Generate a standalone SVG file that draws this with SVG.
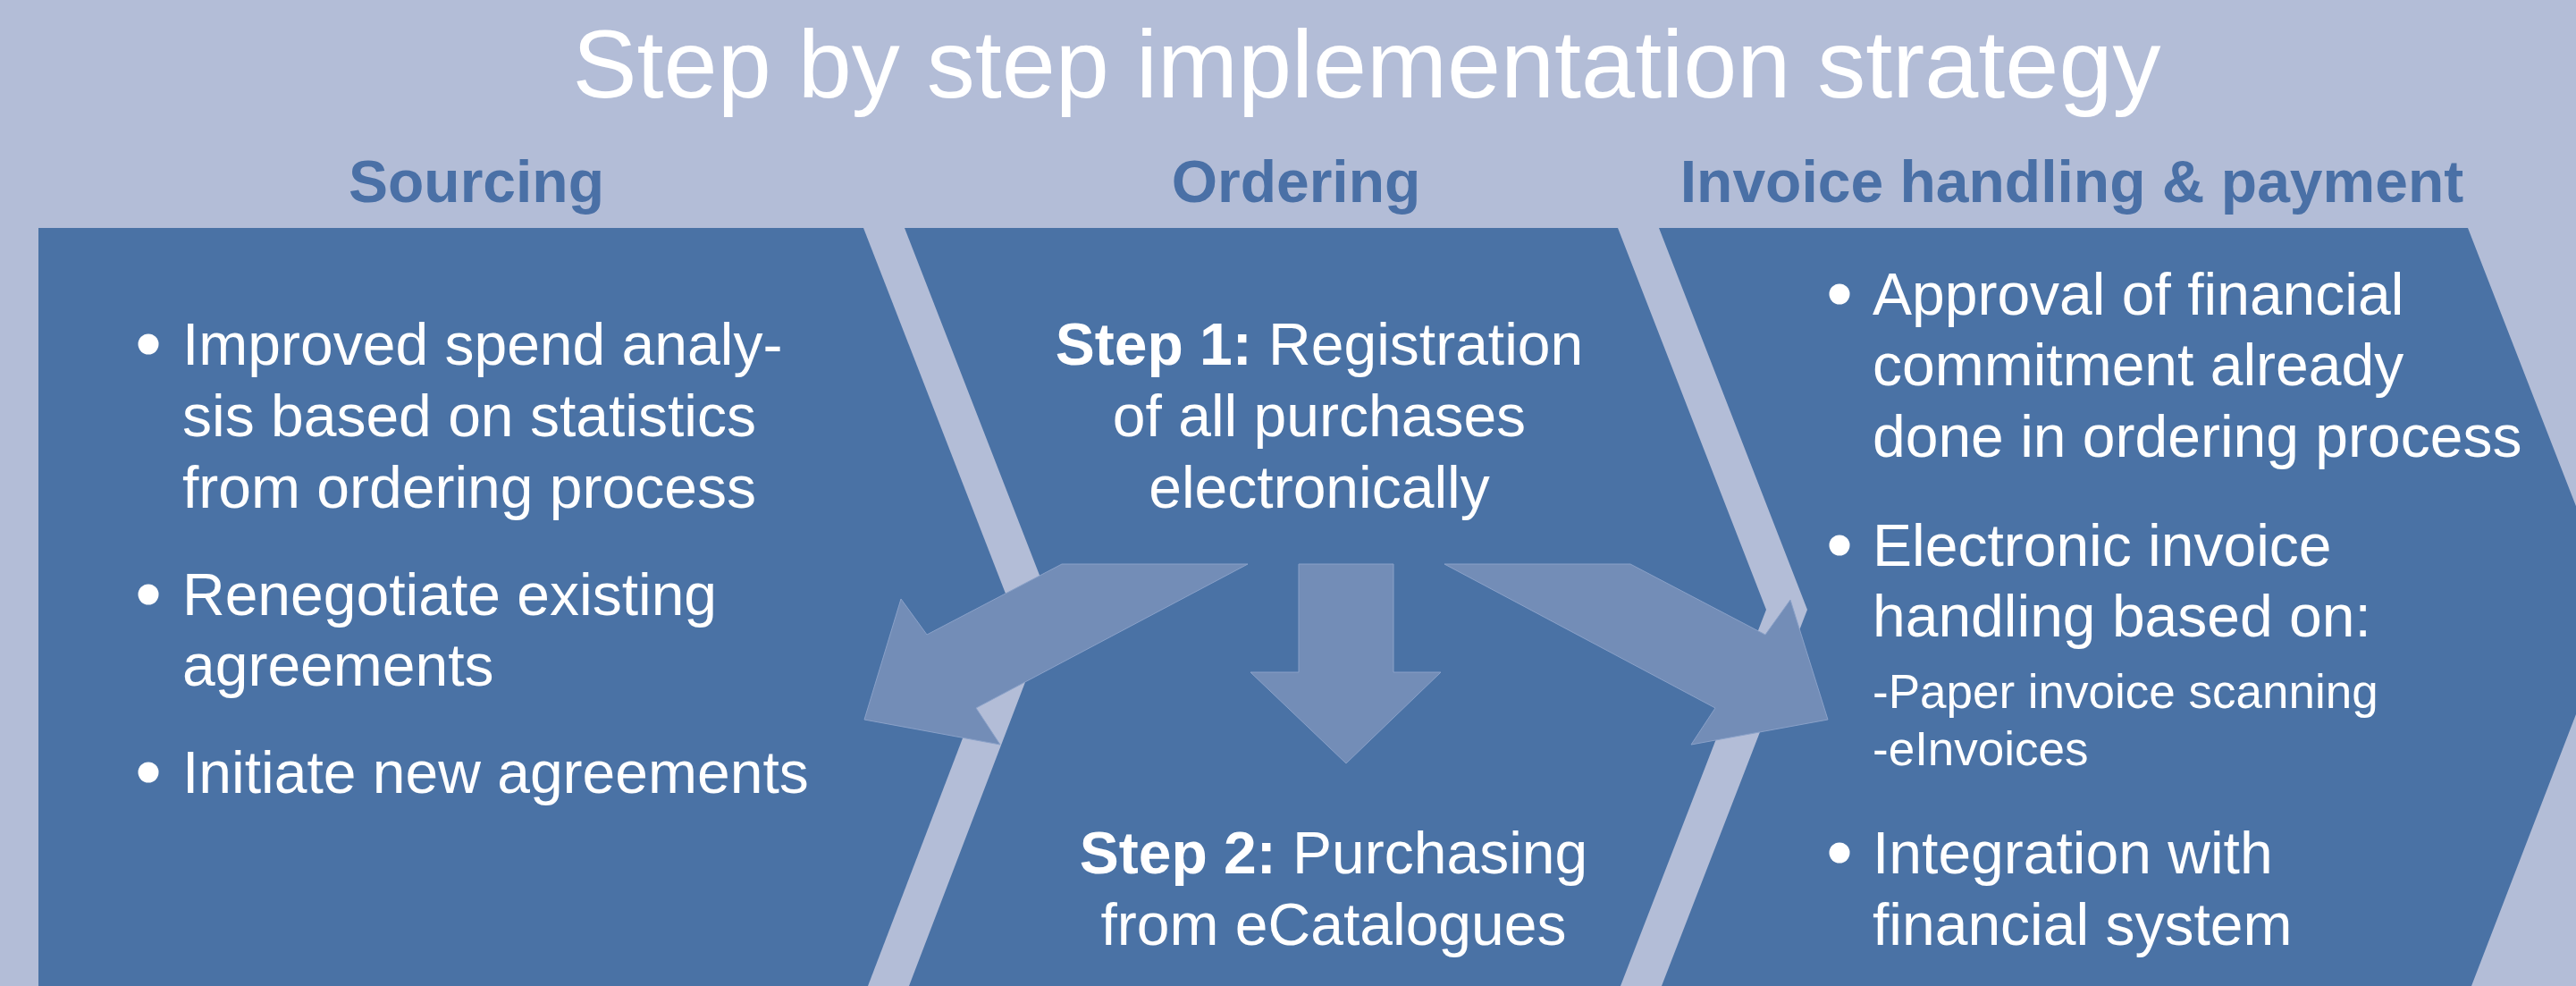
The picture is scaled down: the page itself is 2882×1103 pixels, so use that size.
<svg xmlns="http://www.w3.org/2000/svg" width="2882" height="1103" viewBox="0 0 2882 1103">
<style>
.bg{fill:#B3BDD7}
.panel{fill:#4A72A5}
.arrow{fill:#738DB7;stroke:#8AA1C8;stroke-width:1}
.title{font-family:"Liberation Sans",Arial,sans-serif;font-size:108px;fill:#FFFFFF;text-anchor:middle}
.head{font-family:"Liberation Sans",Arial,sans-serif;font-size:66px;font-weight:bold;fill:#4A70A6;text-anchor:middle}
.body{font-family:"Liberation Sans",Arial,sans-serif;font-size:66px;fill:#FFFFFF}
.small{font-family:"Liberation Sans",Arial,sans-serif;font-size:53px;fill:#FFFFFF}
.mid{text-anchor:middle}
.b{font-weight:bold}
.dot{fill:#FFFFFF}
</style>
<rect class="bg" x="0" y="0" width="2882" height="1103"/>
<text class="title" x="1529" y="109">Step by step implementation strategy</text>

<g id="sourcing">
<polygon class="panel" points="43,255 966,255 1132,682 971,1103 43,1103"/>
<text class="head" x="533" y="226">Sourcing</text>
<circle class="dot" cx="166" cy="385" r="11.5"/>
<text class="body" x="204" y="408">Improved spend analy-</text>
<text class="body" x="204" y="488">sis based on statistics</text>
<text class="body" x="204" y="568">from ordering process</text>
<circle class="dot" cx="166" cy="665" r="11.5"/>
<text class="body" x="204" y="688">Renegotiate existing</text>
<text class="body" x="204" y="767">agreements</text>
<circle class="dot" cx="166" cy="864" r="11.5"/>
<text class="body" x="204" y="887">Initiate new agreements</text>
</g>

<g id="ordering">
<polygon class="panel" points="1012,255 1810,255 1976,682 1813,1103 1017,1103 1178,682"/>
<text class="head" x="1450" y="226">Ordering</text>
<text class="body mid" x="1476" y="408"><tspan class="b">Step 1:</tspan> Registration</text>
<text class="body mid" x="1476" y="488">of all purchases</text>
<text class="body mid" x="1476" y="568">electronically</text>
</g>

<g id="invoice">
<polygon class="panel" points="1856,255 2761,255 2927,682 2765,1103 1859,1103 2022,682"/>
<text class="head" x="2318" y="226">Invoice handling &amp; payment</text>
<circle class="dot" cx="2058" cy="329" r="11.5"/>
<text class="body" x="2095" y="352">Approval of financial</text>
<text class="body" x="2095" y="431">commitment already</text>
<text class="body" x="2095" y="511">done in ordering process</text>
<circle class="dot" cx="2058" cy="610" r="11.5"/>
<text class="body" x="2095" y="633">Electronic invoice</text>
<text class="body" x="2095" y="712">handling based on:</text>
<text class="small" x="2095" y="792">-Paper invoice scanning</text>
<text class="small" x="2095" y="856">-eInvoices</text>
<circle class="dot" cx="2058" cy="954" r="11.5"/>
<text class="body" x="2095" y="977">Integration with</text>
<text class="body" x="2095" y="1057">financial system</text>
</g>

<g id="step2">
<text class="body mid" x="1492" y="977"><tspan class="b">Step 2:</tspan> Purchasing</text>
<text class="body mid" x="1492" y="1057">from eCatalogues</text>
</g>

<g id="connectors">
<polygon class="arrow" points="1188,631 1396,631 1092,792 1119,833 967,805 1008,670 1037,710"/>
<polygon class="arrow" points="1453,631 1559,631 1559,752 1612,752 1506,854 1399,752 1453,752"/>
<polygon class="arrow" points="1824,631 1616,631 1919,792 1892,833 2045,805 2003,671 1975,710"/>
</g>
</svg>
